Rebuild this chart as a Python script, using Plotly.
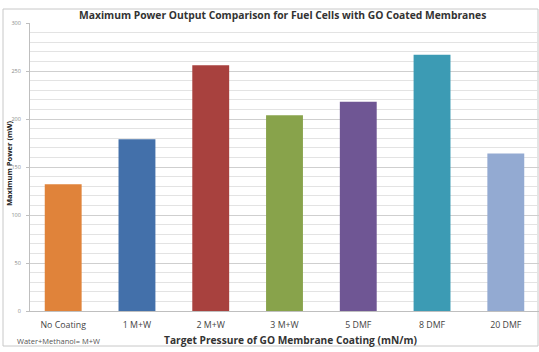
import plotly.graph_objects as go

categories = ["No Coating", "1 M+W", "2 M+W", "3 M+W", "5 DMF", "8 DMF", "20 DMF"]
max_power = [132, 179, 256, 204, 218, 267, 164]
bar_colors = ["#E0833A", "#4370AA", "#A8413E", "#88A34B", "#6F5694", "#3C9BB4", "#93AAD2"]
y_ticks = [0, 50, 100, 150, 200, 250, 300]

W, H = 539, 352
L, R, T, B = 30, 0, 23, 41
pw, ph = W - L - R, H - T - B

def px(x):
    return (x - L) / pw

def py(y):
    return (H - B - y) / ph

fig = go.Figure()
fig.add_trace(go.Bar(
    x=categories, y=max_power, width=0.5,
    marker=dict(color=bar_colors, line=dict(width=0)),
))

fig.update_layout(
    width=W, height=H,
    margin=dict(l=L, r=R, t=T, b=B),
    paper_bgcolor="white", plot_bgcolor="white",
    showlegend=False,
    font=dict(family="Open Sans, sans-serif"),
    xaxis=dict(
        type="category", range=[-0.45, 6.45],
        showgrid=False, showline=True, linecolor="#bfbfbf", linewidth=1,
        ticks="", tickfont=dict(size=8.8, color="#444"),
        ticklabelstandoff=5,
    ),
    yaxis=dict(
        range=[0, 300], tickvals=y_ticks,
        showgrid=True, gridcolor="#cfcfcf", gridwidth=1,
        minor=dict(dtick=10, showgrid=True, gridcolor="#e3e3e3", gridwidth=1),
        showline=True, linecolor="#bfbfbf", linewidth=1,
        ticks="outside", ticklen=3, tickcolor="#bfbfbf",
        tickfont=dict(size=5.5, color="#888"), ticklabelstandoff=4,
        zeroline=False,
    ),
    annotations=[
        dict(text="<b>Maximum Power Output Comparison for Fuel Cells with GO Coated Membranes</b>",
             x=px(282), y=py(15), xref="paper", yref="paper", showarrow=False,
             xanchor="center", yanchor="middle", font=dict(size=10.3, color="#333")),
        dict(text="<b>Maximum Power (mW)</b>", textangle=-90,
             x=px(9), y=py(163), xref="paper", yref="paper", showarrow=False,
             xanchor="center", yanchor="middle", font=dict(size=7.5, color="#222")),
        dict(text="<b>Target Pressure of GO Membrane Coating (mN/m)</b>",
             x=px(290), y=py(340), xref="paper", yref="paper", showarrow=False,
             xanchor="center", yanchor="middle", font=dict(size=10.2, color="#333")),
        dict(text="Water+Methanol= M+W",
             x=px(15), y=py(341), xref="paper", yref="paper", showarrow=False,
             xanchor="left", yanchor="middle", font=dict(size=7.5, color="#555")),
    ],
    shapes=[
        dict(type="rect", xref="paper", yref="paper",
             x0=px(3), x1=px(538), y0=py(346), y1=py(9),
             line=dict(color="#c8c8c8", width=1), layer="below"),
    ],
)

fig.write_html(
    "out.html",
    config={"displayModeBar": False},
    post_script="document.body.style.margin='0';document.body.style.overflow='hidden';",
)
